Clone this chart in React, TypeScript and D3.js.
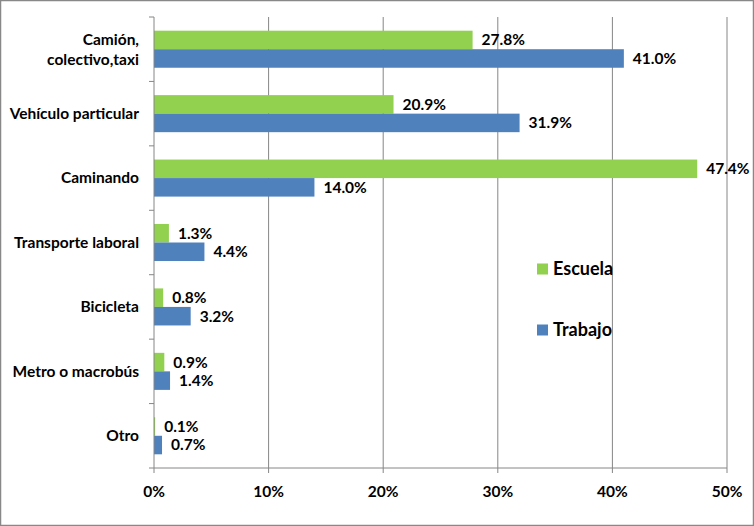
import * as d3 from 'd3';

const categories = [
  'Camión,\ncolectivo,taxi',
  'Vehículo particular',
  'Caminando',
  'Transporte laboral',
  'Bicicleta',
  'Metro o macrobús',
  'Otro',
];
const escuela = [27.8, 20.9, 47.4, 1.3, 0.8, 0.9, 0.1];
const trabajo = [41.0, 31.9, 14.0, 4.4, 3.2, 1.4, 0.7];
const xTicks = [0, 10, 20, 30, 40, 50];
const seriesNames = ['Escuela', 'Trabajo'];

const W = 754;
const H = 526;
const MARGIN = { top: 17, right: 27, bottom: 58, left: 154 };
const GREEN = '#92D050';
const BLUE = '#4F81BD';
const GRID = '#868686';
const FONT = 'Lato, "Open Sans", sans-serif';

export default function App() {
  const boundsW = W - MARGIN.left - MARGIN.right;
  const boundsH = H - MARGIN.top - MARGIN.bottom;

  const xScale = d3.scaleLinear().domain([0, 50]).range([0, boundsW]);
  const yScale = d3
    .scaleBand<string>()
    .domain(categories)
    .range([0, boundsH])
    .paddingInner(0.425)
    .paddingOuter(0.2125);
  const inner = d3
    .scaleBand<string>()
    .domain(seriesNames)
    .range([0, yScale.bandwidth()]);

  const step = yScale.step();
  const series = [
    { name: 'Escuela', values: escuela, color: GREEN },
    { name: 'Trabajo', values: trabajo, color: BLUE },
  ];

  return (
    <svg
      width={W}
      height={H}
      style={{ position: 'absolute', left: 0, top: 0 }}
      fontFamily={FONT}
      fontWeight="bold"
    >
      <rect x={0.5} y={0.5} width={W - 1} height={H - 1} fill="#fff" stroke="#888" strokeWidth={1.5} />
      <g transform={`translate(${MARGIN.left},${MARGIN.top})`}>
        {/* gridlines */}
        {xTicks.slice(1).map((t) => (
          <line key={t} x1={xScale(t)} x2={xScale(t)} y1={0} y2={boundsH + 5} stroke={GRID} strokeWidth={1} />
        ))}
        {/* bars */}
        {series.map((s) =>
          categories.map((c, i) => (
            <rect
              key={s.name + i}
              x={0}
              y={(yScale(c) ?? 0) + (inner(s.name) ?? 0)}
              width={xScale(s.values[i])}
              height={inner.bandwidth()}
              fill={s.color}
            />
          ))
        )}
        {/* value labels */}
        {series.map((s) =>
          categories.map((c, i) => (
            <text
              key={'l' + s.name + i}
              x={xScale(s.values[i]) + 9}
              y={(yScale(c) ?? 0) + (inner(s.name) ?? 0) + inner.bandwidth() / 2}
              dy="0.35em"
              fontSize={15.5}
              fill="#000"
            >
              {s.values[i].toFixed(1)}%
            </text>
          ))
        )}
        {/* y axis */}
        <line x1={0} x2={0} y1={0} y2={boundsH} stroke={GRID} />
        {d3.range(categories.length + 1).map((i) => (
          <line key={'yt' + i} x1={-5} x2={0} y1={i * step} y2={i * step} stroke={GRID} />
        ))}
        {/* x axis */}
        <line x1={0} x2={boundsW} y1={boundsH} y2={boundsH} stroke={GRID} />
        <line x1={0} x2={0} y1={boundsH} y2={boundsH + 5} stroke={GRID} />
        {xTicks.map((t) => (
          <text key={'xt' + t} x={xScale(t)} y={boundsH + 24} dy="0.35em" textAnchor="middle" fontSize={15.5}>
            {t}%
          </text>
        ))}
        {/* category labels */}
        {categories.map((c) => {
          const lines = c.split('\n');
          const cy = (yScale(c) ?? 0) + yScale.bandwidth() / 2;
          return (
            <text key={'c' + c} x={-15} textAnchor="end" fontSize={15.5}>
              {lines.map((ln, k) => (
                <tspan key={k} x={-15} y={cy + (k - (lines.length - 1) / 2) * 20} dy="0.35em">
                  {ln}
                </tspan>
              ))}
            </text>
          );
        })}
      </g>
      {/* legend */}
      {series.map((s, i) => (
        <g key={'lg' + s.name} transform={`translate(537,${269 + i * 61})`}>
          <rect x={0} y={-5.5} width={11} height={11} fill={s.color} />
          <text x={16} y={0} dy="0.35em" fontSize={18}>
            {s.name}
          </text>
        </g>
      ))}
    </svg>
  );
}
